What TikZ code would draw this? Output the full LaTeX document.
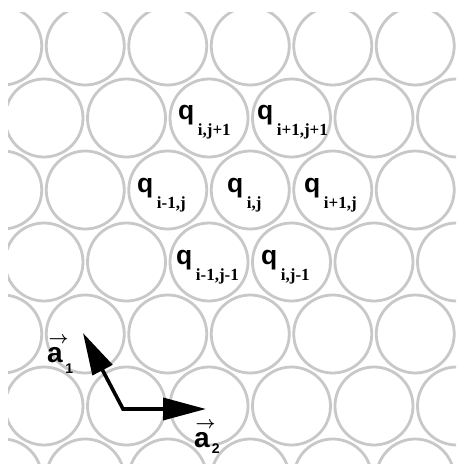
\documentclass[tikz,border=0pt]{standalone}
\usepackage{fontspec}
\setmainfont{Liberation Sans}
\newfontfamily\subserif{Liberation Serif}
\usetikzlibrary{arrows.meta}
\definecolor{cellgray}{RGB}{200,200,200}
\newcommand\qwith[1]{q\hspace{3.5pt}\raisebox{-16pt}{\fontsize{17}{17}\selectfont\subserif\bfseries #1}}
\newcommand\vecA{\rlap{\hspace{1.5pt}\raisebox{19pt}{\fontsize{16}{16}\selectfont$\boldsymbol{\rightarrow}$}}a}
\usepackage{amsmath,amsbsy}
\tikzset{
  cell/.style={draw=cellgray, line width=2.8pt, circle, minimum size=78pt, inner sep=0pt},
  qlab/.style={anchor=base west, inner sep=0pt, font=\fontsize{26.5}{26}\selectfont\bfseries},
  alab/.style={anchor=base west, inner sep=0pt, font=\fontsize{28}{28}\selectfont\bfseries},
  basisvec/.style={line width=3.6pt, line join=miter,
    {Triangle[length=42pt,width=22pt]}-{Triangle[length=43pt,width=22pt]}}
}
\begin{document}
\begin{tikzpicture}[x=1pt,y=-1pt]
\useasboundingbox (0,0) rectangle (456,464);
\fill[white] (0,0) rectangle (456,464);
\begin{scope}
\clip (8,12) rectangle (456,464);
\foreach \r in {0,...,6}{
  \foreach \k in {0,...,5}{
    \pgfmathsetmacro{\cx}{2.75+41.25*mod(\r,2)+82.5*\k}
    \pgfmathsetmacro{\cy}{46+72*\r}
    \node[cell] (c\r-\k) at (\cx,\cy) {};
  }
}
\end{scope}
% labels
\node[qlab] (qA) at (178,119) {\qwith{i,j+1}};
\node[qlab] (qB) at (257,119) {\qwith{i+1,j+1}};
\node[qlab] (qC) at (137,192) {\qwith{i-1,j}};
\node[qlab] (qD) at (227,192) {\qwith{i,j}};
\node[qlab] (qE) at (304,192) {\qwith{i+1,j}};
\node[qlab] (qF) at (176,264) {\qwith{i-1,j-1}};
\node[qlab] (qG) at (261,264) {\qwith{i,j-1}};
% basis vectors
\coordinate (o) at (123,409);
\coordinate (t1) at (83,333);
\coordinate (t2) at (206,409);
\draw[basisvec] (t1) -- (o) -- (t2);
\node[alab] (a1lab) at (47,362) {\vecA\hspace{2.5pt}\raisebox{-11pt}{\fontsize{14}{14}\selectfont 1}};
\node[alab] (a2lab) at (194,447) {\vecA\hspace{2pt}\raisebox{-6pt}{\fontsize{14}{14}\selectfont 2}};
\end{tikzpicture}
\end{document}
